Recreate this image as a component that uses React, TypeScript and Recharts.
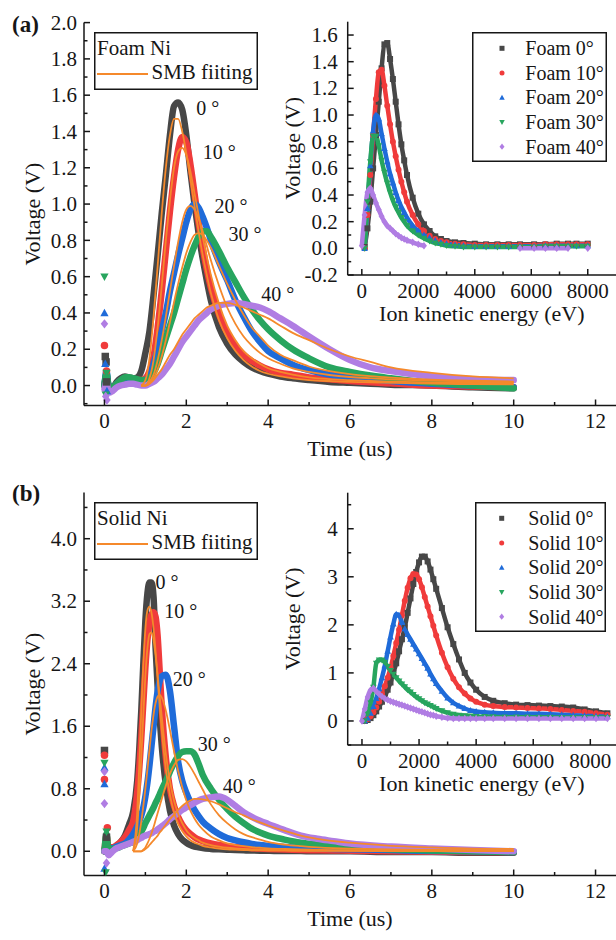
import React from 'react';
import { ComposedChart, Line, Scatter, XAxis, YAxis, Legend, ReferenceDot } from 'recharts';

const INK = '#161616';
const COLORS = ['#474747', '#f03b3b', '#1f6bd9', '#27a55e', '#b07de3'];
const FIT_COLOR = '#f5892b';
const MARKERS = ['square', 'circle', 'up', 'down', 'diamond'];
const FONT = "'Liberation Serif', 'Times New Roman', Times, serif";
const _ = null;

// ---- tick values ----
const TIME_MAJOR = [0, 2, 4, 6, 8, 10, 12];
const TIME_MINOR = [1, 3, 5, 7, 9, 11];
const VOLT_A_MAJOR = [0, 0.2, 0.4, 0.6, 0.8, 1.0, 1.2, 1.4, 1.6, 1.8, 2.0];
const VOLT_A_MINOR = [-0.1, 0.1, 0.3, 0.5, 0.7, 0.9, 1.1, 1.3, 1.5, 1.7, 1.9];
const VOLT_B_MAJOR = [0, 0.8, 1.6, 2.4, 3.2, 4.0];
const VOLT_B_MINOR = [0.4, 1.2, 2.0, 2.8, 3.6, 4.4];
const ENERGY_MAJOR = [0, 2000, 4000, 6000, 8000];
const ENERGY_MINOR = [1000, 3000, 5000, 7000];
const INSET_A_MAJOR = [-0.2, 0, 0.2, 0.4, 0.6, 0.8, 1.0, 1.2, 1.4, 1.6];
const INSET_A_MINOR = [-0.1, 0.1, 0.3, 0.5, 0.7, 0.9, 1.1, 1.3, 1.5];
const INSET_B_MAJOR = [0, 1, 2, 3, 4];
const INSET_B_MINOR = [-0.5, 0.5, 1.5, 2.5, 3.5, 4.5];

// ---- (a) foam Ni, time domain ----
const TIME_A = [0, 0.05, 0.1, 0.2, 0.3, 0.4, 0.5, 0.6, 0.7, 0.8, 0.9, 1.0, 1.1, 1.2, 1.3, 1.4, 1.5, 1.6, 1.7, 1.8, 1.9, 2.0, 2.1, 2.2, 2.3, 2.4, 2.5, 2.6, 2.8, 3.0, 3.2, 3.4, 3.6, 3.8, 4.0, 4.3, 4.6, 5.0, 5.5, 6.0, 6.5, 7.0, 8.0, 9.0, 10.0];
const FOAM_0 = [0.0, 0.06, 0.0, -0.01, 0.02, 0.04, 0.05, 0.045, 0.04, 0.045, 0.08, 0.18, 0.3, 0.5, 0.72, 0.95, 1.16, 1.38, 1.54, 1.56, 1.52, 1.38, 1.18, 1.0, 0.84, 0.7, 0.58, 0.47, 0.32, 0.23, 0.17, 0.13, 0.1, 0.08, 0.065, 0.05, 0.04, 0.03, 0.02, 0.015, 0.01, 0.005, 0.0, -0.01, -0.015];
const FOAM_10 = [0.0, 0.05, -0.01, -0.01, 0.01, 0.03, 0.04, 0.04, 0.035, 0.03, 0.03, 0.04, 0.08, 0.16, 0.32, 0.52, 0.74, 0.96, 1.15, 1.3, 1.37, 1.34, 1.22, 1.06, 0.9, 0.76, 0.64, 0.54, 0.39, 0.29, 0.22, 0.17, 0.135, 0.11, 0.09, 0.07, 0.06, 0.045, 0.035, 0.025, 0.018, 0.012, 0.0, -0.005, -0.01];
const FOAM_20 = [0.0, 0.08, 0.0, -0.01, 0.01, 0.03, 0.04, 0.04, 0.035, 0.03, 0.025, 0.03, 0.05, 0.12, 0.2, 0.3, 0.4, 0.52, 0.62, 0.72, 0.81, 0.9, 0.97, 1.0, 0.98, 0.93, 0.87, 0.8, 0.68, 0.58, 0.47, 0.38, 0.3, 0.24, 0.19, 0.15, 0.115, 0.085, 0.06, 0.045, 0.035, 0.025, 0.01, 0.0, -0.01];
const FOAM_30 = [0.0, 0.07, 0.0, -0.01, 0.01, 0.03, 0.045, 0.045, 0.04, 0.035, 0.03, 0.03, 0.04, 0.07, 0.12, 0.19, 0.26, 0.33, 0.4, 0.48, 0.56, 0.64, 0.71, 0.77, 0.82, 0.85, 0.85, 0.82, 0.74, 0.65, 0.57, 0.49, 0.42, 0.36, 0.31, 0.25, 0.2, 0.15, 0.1, 0.075, 0.055, 0.04, 0.015, 0.0, -0.015];
const FOAM_40 = [-0.02, 0.02, -0.04, -0.03, -0.01, 0.0, 0.005, 0.01, 0.01, 0.005, 0.0, 0.0, 0.01, 0.02, 0.04, 0.06, 0.09, 0.12, 0.16, 0.2, 0.24, 0.27, 0.3, 0.33, 0.36, 0.38, 0.4, 0.42, 0.44, 0.45, 0.455, 0.45, 0.44, 0.43, 0.41, 0.37, 0.33, 0.27, 0.2, 0.14, 0.1, 0.08, 0.05, 0.035, 0.03];
const FOAM_FIT_0 = [_, _, _, _, _, _, _, _, _, _, 0.0, 0.03, 0.15, 0.38, 0.66, 0.95, 1.2, 1.38, 1.47, 1.47, 1.4, 1.28, 1.14, 0.99, 0.85, 0.72, 0.61, 0.51, 0.36, 0.26, 0.19, 0.14, 0.105, 0.08, 0.065, 0.05, 0.04, 0.03, 0.025, 0.02, 0.018, 0.015, 0.01, 0.008, 0.006];
const FOAM_FIT_10 = [_, _, _, _, _, _, _, _, _, _, 0.0, 0.0, 0.04, 0.14, 0.32, 0.55, 0.8, 1.02, 1.2, 1.29, 1.31, 1.27, 1.18, 1.06, 0.94, 0.82, 0.71, 0.61, 0.45, 0.33, 0.25, 0.19, 0.15, 0.12, 0.095, 0.075, 0.06, 0.045, 0.035, 0.03, 0.025, 0.022, 0.017, 0.014, 0.012];
const FOAM_FIT_20 = [_, _, _, _, _, _, _, _, _, _, 0.0, 0.0, 0.02, 0.06, 0.14, 0.25, 0.38, 0.52, 0.66, 0.79, 0.9, 0.97, 0.99, 0.97, 0.92, 0.85, 0.77, 0.69, 0.55, 0.43, 0.34, 0.27, 0.22, 0.18, 0.15, 0.12, 0.095, 0.075, 0.058, 0.047, 0.04, 0.034, 0.027, 0.022, 0.018];
const FOAM_FIT_30 = [_, _, _, _, _, _, _, _, _, _, 0.0, 0.0, 0.01, 0.04, 0.09, 0.16, 0.25, 0.35, 0.46, 0.56, 0.65, 0.73, 0.79, 0.83, 0.84, 0.83, 0.8, 0.76, 0.66, 0.56, 0.47, 0.39, 0.32, 0.27, 0.22, 0.17, 0.14, 0.105, 0.08, 0.063, 0.052, 0.044, 0.033, 0.027, 0.022];
const FOAM_FIT_40 = [_, _, _, _, _, _, _, _, _, _, 0.0, 0.0, 0.01, 0.03, 0.06, 0.09, 0.13, 0.17, 0.2, 0.24, 0.28, 0.31, 0.34, 0.37, 0.39, 0.41, 0.43, 0.44, 0.455, 0.455, 0.445, 0.43, 0.41, 0.39, 0.37, 0.33, 0.29, 0.25, 0.2, 0.16, 0.13, 0.1, 0.07, 0.05, 0.04];
// stray points near t = 0, [time, voltage]
const FOAM_SPIKE_0 = [[0.02, 0.16], [0.04, 0.13], [0.05, 0.02]];
const FOAM_SPIKE_10 = [[0.0, 0.22], [0.05, 0.08]];
const FOAM_SPIKE_20 = [[0.0, 0.4], [0.02, 0.12], [0.06, -0.03]];
const FOAM_SPIKE_30 = [[0.0, 0.6], [0.05, 0.07], [0.03, -0.05]];
const FOAM_SPIKE_40 = [[0.0, 0.34], [0.03, -0.06], [0.06, -0.08]];

// ---- (b) solid Ni, time domain ----
const TIME_B = [0, 0.05, 0.1, 0.2, 0.3, 0.4, 0.5, 0.6, 0.7, 0.8, 0.85, 0.9, 0.95, 1.0, 1.05, 1.1, 1.15, 1.2, 1.25, 1.3, 1.35, 1.4, 1.5, 1.6, 1.7, 1.8, 1.9, 2.0, 2.1, 2.2, 2.3, 2.4, 2.6, 2.8, 3.0, 3.2, 3.4, 3.6, 3.8, 4.0, 4.4, 4.8, 5.2, 5.6, 6.0, 7.0, 8.0, 9.0, 10.0];
const SOLID_0 = [0.0, 0.12, 0.05, 0.04, 0.07, 0.12, 0.2, 0.34, 0.5, 0.9, 1.3, 1.8, 2.4, 2.95, 3.3, 3.44, 3.44, 3.25, 2.6, 2.1, 1.7, 1.35, 0.85, 0.52, 0.33, 0.22, 0.15, 0.11, 0.08, 0.06, 0.05, 0.04, 0.03, 0.025, 0.02, 0.015, 0.012, 0.01, 0.008, 0.006, 0.004, 0.002, 0.0, 0.0, 0.0, -0.01, -0.01, -0.02, -0.02];
const SOLID_10 = [0.0, 0.2, 0.05, 0.05, 0.08, 0.12, 0.18, 0.27, 0.38, 0.75, 1.05, 1.45, 1.9, 2.35, 2.7, 2.92, 3.03, 3.06, 3.0, 2.75, 2.3, 1.85, 1.2, 0.8, 0.58, 0.44, 0.34, 0.27, 0.22, 0.18, 0.15, 0.13, 0.1, 0.08, 0.065, 0.055, 0.047, 0.04, 0.035, 0.03, 0.022, 0.017, 0.013, 0.01, 0.008, 0.0, -0.005, -0.01, -0.01];
const SOLID_20 = [0.0, 0.1, 0.04, 0.04, 0.06, 0.08, 0.1, 0.15, 0.22, 0.32, 0.38, 0.46, 0.56, 0.7, 0.88, 1.1, 1.35, 1.6, 1.85, 2.05, 2.18, 2.24, 2.26, 2.05, 1.6, 1.15, 0.9, 0.75, 0.63, 0.53, 0.45, 0.38, 0.29, 0.22, 0.17, 0.14, 0.115, 0.095, 0.08, 0.07, 0.055, 0.045, 0.037, 0.03, 0.025, 0.015, 0.005, 0.0, -0.01];
const SOLID_30 = [0.0, 0.22, 0.0, 0.03, 0.04, 0.06, 0.08, 0.1, 0.12, 0.16, 0.2, 0.25, 0.3, 0.36, 0.41, 0.46, 0.51, 0.56, 0.62, 0.67, 0.73, 0.79, 0.9, 1.02, 1.13, 1.22, 1.27, 1.28, 1.28, 1.24, 1.12, 0.98, 0.8, 0.66, 0.54, 0.44, 0.36, 0.29, 0.24, 0.2, 0.15, 0.11, 0.085, 0.065, 0.05, 0.025, 0.01, 0.0, -0.01];
const SOLID_40 = [0.0, 0.0, -0.05, 0.0, 0.04, 0.06, 0.08, 0.1, 0.12, 0.14, 0.16, 0.17, 0.19, 0.2, 0.21, 0.22, 0.23, 0.25, 0.26, 0.28, 0.3, 0.32, 0.36, 0.41, 0.45, 0.49, 0.53, 0.56, 0.59, 0.62, 0.65, 0.67, 0.69, 0.7, 0.66, 0.58, 0.5, 0.44, 0.39, 0.35, 0.27, 0.2, 0.16, 0.13, 0.1, 0.06, 0.035, 0.015, 0.0];
const SOLID_FIT_0 = [_, _, _, _, _, _, _, _, 0.0, 0.5, 1.1, 1.8, 2.4, 2.85, 3.08, 3.13, 3.05, 2.85, 2.55, 2.2, 1.85, 1.55, 1.05, 0.72, 0.5, 0.35, 0.26, 0.19, 0.14, 0.11, 0.09, 0.07, 0.05, 0.035, 0.025, 0.02, 0.016, 0.013, 0.011, 0.01, 0.008, 0.006, 0.005, 0.004, 0.004, 0.003, 0.002, 0.002, 0.001];
const SOLID_FIT_10 = [_, _, _, _, _, _, _, _, 0.0, 0.3, 0.7, 1.2, 1.75, 2.25, 2.6, 2.78, 2.8, 2.7, 2.5, 2.25, 1.98, 1.72, 1.25, 0.9, 0.65, 0.48, 0.36, 0.27, 0.21, 0.17, 0.14, 0.11, 0.08, 0.06, 0.045, 0.036, 0.03, 0.025, 0.021, 0.018, 0.014, 0.011, 0.009, 0.008, 0.007, 0.005, 0.004, 0.003, 0.003];
const SOLID_FIT_20 = [_, _, _, _, _, _, _, _, 0.0, 0.1, 0.22, 0.38, 0.58, 0.8, 1.05, 1.3, 1.55, 1.75, 1.9, 1.98, 2.0, 1.97, 1.8, 1.55, 1.28, 1.03, 0.82, 0.65, 0.52, 0.42, 0.34, 0.28, 0.19, 0.14, 0.1, 0.08, 0.065, 0.053, 0.045, 0.038, 0.029, 0.023, 0.019, 0.016, 0.014, 0.01, 0.008, 0.007, 0.006];
const SOLID_FIT_30 = [_, _, _, _, _, _, _, _, 0.0, 0.0, 0.0, 0.0, 0.02, 0.05, 0.1, 0.16, 0.23, 0.31, 0.4, 0.49, 0.58, 0.67, 0.84, 0.99, 1.1, 1.17, 1.18, 1.15, 1.08, 0.99, 0.89, 0.79, 0.6, 0.46, 0.36, 0.28, 0.22, 0.18, 0.15, 0.12, 0.085, 0.065, 0.05, 0.04, 0.034, 0.024, 0.018, 0.014, 0.012];
const SOLID_FIT_40 = [_, _, _, _, _, _, _, _, 0.0, 0.0, 0.0, 0.0, 0.01, 0.03, 0.05, 0.08, 0.11, 0.14, 0.17, 0.2, 0.24, 0.27, 0.34, 0.41, 0.47, 0.53, 0.58, 0.62, 0.65, 0.67, 0.67, 0.665, 0.64, 0.6, 0.55, 0.5, 0.46, 0.41, 0.37, 0.33, 0.26, 0.2, 0.16, 0.13, 0.11, 0.07, 0.05, 0.035, 0.03];
const SOLID_SPIKE_0 = [[0.0, 1.29], [0.05, 0.18]];
const SOLID_SPIKE_10 = [[0.0, 1.23], [0.0, 0.92], [0.07, 0.3]];
const SOLID_SPIKE_20 = [[0.0, 1.07], [0.0, 0.86], [0.0, -0.22]];
const SOLID_SPIKE_30 = [[0.0, 1.13], [0.05, 0.25], [0.03, -0.27]];
const SOLID_SPIKE_40 = [[0.0, 1.02], [0.0, 0.61], [0.05, -0.15]];

// ---- insets, energy domain ----
const ENERGY_A = [0, 100, 200, 300, 400, 500, 600, 700, 800, 900, 1000, 1100, 1200, 1300, 1400, 1500, 1600, 1800, 2000, 2200, 2400, 2600, 2800, 3000, 3300, 3600, 4000, 4400, 4800, 5200, 5600, 6100, 6500, 6900, 7300, 7600, 8000];
const FOAM_E0 = [_, 0.01, 0.15, 0.35, 0.6, 0.85, 1.1, 1.35, 1.53, 1.54, 1.42, 1.27, 1.1, 0.93, 0.78, 0.66, 0.55, 0.38, 0.26, 0.18, 0.13, 0.09, 0.07, 0.055, 0.045, 0.04, 0.035, 0.03, 0.03, 0.03, 0.03, 0.03, 0.03, 0.035, 0.035, 0.035, 0.035];
const FOAM_E10 = [_, 0.0, 0.25, 0.55, 0.85, 1.12, 1.32, 1.34, 1.22, 1.07, 0.93, 0.8, 0.69, 0.59, 0.5, 0.42, 0.35, 0.25, 0.18, 0.13, 0.095, 0.07, 0.055, 0.045, 0.035, 0.03, 0.025, 0.025, 0.025, 0.025, 0.025, 0.025, 0.03, 0.03, 0.03, 0.03, 0.03];
const FOAM_E20 = [_, 0.0, 0.3, 0.62, 0.88, 1.0, 0.97, 0.86, 0.75, 0.65, 0.56, 0.49, 0.42, 0.36, 0.31, 0.27, 0.23, 0.17, 0.13, 0.1, 0.08, 0.06, 0.045, 0.035, 0.025, 0.02, 0.015, 0.015, 0.015, 0.015, 0.015, 0.015, 0.02, 0.02, 0.02, 0.02, 0.02];
const FOAM_E30 = [_, 0.0, 0.35, 0.65, 0.84, 0.84, 0.77, 0.66, 0.57, 0.49, 0.42, 0.36, 0.31, 0.27, 0.23, 0.2, 0.17, 0.13, 0.1, 0.075, 0.055, 0.04, 0.03, 0.02, 0.015, 0.01, 0.01, 0.01, 0.01, 0.01, 0.01, 0.01, 0.015, 0.015, 0.015, 0.015, 0.015];
const FOAM_E40 = [0.02, 0.25, 0.42, 0.45, 0.4, 0.34, 0.29, 0.24, 0.2, 0.17, 0.15, 0.13, 0.11, 0.095, 0.08, 0.07, 0.06, 0.045, 0.03, 0.02, _, _, _, _, _, _, _, _, _, _, 0.0, 0.0, 0.0, 0.0, 0.0, _, 0.0];

const ENERGY_B = [0, 100, 200, 300, 400, 500, 600, 700, 800, 900, 1000, 1100, 1200, 1300, 1400, 1500, 1600, 1700, 1800, 1900, 2000, 2100, 2200, 2300, 2400, 2500, 2600, 2800, 3000, 3200, 3400, 3600, 3800, 4000, 4300, 4600, 5000, 5400, 5800, 6200, 6600, 7000, 7400, 7800, 8200, 8600];
const SOLID_E0 = [_, 0.0, 0.02, 0.06, 0.12, 0.2, 0.3, 0.4, 0.5, 0.65, 0.8, 1.0, 1.2, 1.45, 1.7, 1.95, 2.25, 2.55, 2.85, 3.1, 3.3, 3.42, 3.42, 3.32, 3.15, 2.95, 2.75, 2.35, 1.95, 1.6, 1.28, 1.0, 0.8, 0.65, 0.5, 0.42, 0.37, 0.34, 0.33, 0.32, 0.31, 0.3, 0.28, 0.24, 0.2, 0.16];
const SOLID_E10 = [_, 0.0, 0.04, 0.1, 0.18, 0.28, 0.4, 0.55, 0.72, 0.9, 1.1, 1.35, 1.62, 1.9, 2.2, 2.5, 2.77, 2.97, 3.06, 3.05, 2.95, 2.78, 2.58, 2.38, 2.18, 1.98, 1.78, 1.42, 1.12, 0.88, 0.7, 0.57, 0.47, 0.4, 0.34, 0.31, 0.29, 0.28, 0.27, 0.26, 0.25, 0.23, 0.21, 0.19, 0.16, 0.13];
const SOLID_E20 = [_, 0.0, 0.06, 0.16, 0.3, 0.47, 0.67, 0.9, 1.15, 1.45, 1.75, 2.02, 2.22, 2.2, 2.05, 1.92, 1.8, 1.7, 1.6, 1.5, 1.4, 1.3, 1.2, 1.1, 0.98, 0.88, 0.78, 0.62, 0.48, 0.38, 0.31, 0.26, 0.22, 0.2, 0.18, 0.17, 0.16, 0.16, 0.15, 0.15, 0.14, 0.13, 0.12, 0.11, 0.1, 0.09];
const SOLID_E30 = [_, 0.0, 0.15, 0.38, 0.7, 1.2, 1.27, 1.27, 1.22, 1.13, 1.05, 0.97, 0.9, 0.83, 0.77, 0.71, 0.65, 0.6, 0.55, 0.5, 0.46, 0.42, 0.38, 0.35, 0.32, 0.29, 0.26, 0.21, 0.17, 0.14, 0.12, 0.11, 0.1, 0.09, 0.09, 0.085, 0.08, 0.08, 0.08, 0.075, 0.075, 0.07, 0.07, 0.07, 0.07, 0.07];
const SOLID_E40 = [0.0, 0.25, 0.5, 0.64, 0.68, 0.62, 0.56, 0.51, 0.47, 0.44, 0.41, 0.39, 0.37, 0.35, 0.33, 0.31, 0.29, 0.27, 0.25, 0.23, 0.21, 0.19, 0.17, 0.15, 0.13, 0.12, 0.1, 0.08, 0.06, 0.05, 0.05, 0.05, 0.05, 0.05, 0.05, 0.05, 0.05, 0.05, 0.05, 0.05, 0.05, 0.05, 0.05, 0.05, 0.05, 0.05];

const FOAM_NAMES = ['Foam 0°', 'Foam 10°', 'Foam 20°', 'Foam 30°', 'Foam 40°'];
const SOLID_NAMES = ['Solid 0°', 'Solid 10°', 'Solid 20°', 'Solid 30°', 'Solid 40°'];
const ANGLE_LABELS = ['0 °', '10 °', '20 °', '30 °', '40 °'];
const FOAM_NOTE_T = [2.24, 2.4, 2.69, 3.03, 3.83];
const FOAM_NOTE_V = [1.53, 1.29, 0.99, 0.834, 0.504];
const SOLID_NOTE_T = [1.25, 1.46, 1.67, 2.28, 2.89];
const SOLID_NOTE_V = [3.45, 3.07, 2.21, 1.37, 0.84];

const AXIS_LINE = { stroke: INK, strokeWidth: 1.5 };
const fmt1 = (v: number) => v.toFixed(1);
const fmt0 = (v: number) => String(v);

function Mark({ kind, cx, cy, size, color }: any) {
  const h = size / 2;
  if (kind === 'square') return <rect x={cx - h} y={cy - h} width={size} height={size} fill={color} />;
  if (kind === 'circle') return <circle cx={cx} cy={cy} r={h} fill={color} />;
  if (kind === 'up')
    return <path d={`M${cx} ${cy - h * 1.15}L${cx + h * 1.1} ${cy + h * 0.85}L${cx - h * 1.1} ${cy + h * 0.85}Z`} fill={color} />;
  if (kind === 'down')
    return <path d={`M${cx} ${cy + h * 1.15}L${cx + h * 1.1} ${cy - h * 0.85}L${cx - h * 1.1} ${cy - h * 0.85}Z`} fill={color} />;
  return <path d={`M${cx} ${cy - h * 1.25}L${cx + h} ${cy}L${cx} ${cy + h * 1.25}L${cx - h} ${cy}Z`} fill={color} />;
}

const markShape = (kind: string, color: string, size: number) => (p: any) => (
  <Mark kind={kind} cx={p.cx} cy={p.cy} size={size} color={color} />
);

// ticks point inward, Origin style; labels only on majors
function makeTick(side: string, major: number[], fmt: any, gap: number, fontSize: number) {
  return (props: any) => {
    const { x, y, payload } = props;
    const v = payload.value;
    const isMajor = major.some((m) => Math.abs(m - v) < 1e-6);
    const len = isMajor ? 6 : 3.5;
    const dx = side === 'left' ? len : side === 'right' ? -len : 0;
    const dy = side === 'bottom' ? -len : side === 'top' ? len : 0;
    let label = null;
    if (isMajor && fmt && side === 'bottom')
      label = (
        <text x={x} y={y + 22.5} textAnchor="middle" fontSize={fontSize} fill={INK}>
          {fmt(v)}
        </text>
      );
    if (isMajor && fmt && side === 'left')
      label = (
        <text x={x - gap} y={y + fontSize * 0.34} textAnchor="end" fontSize={fontSize} fill={INK}>
          {fmt(v)}
        </text>
      );
    return (
      <g>
        <line x1={x} y1={y} x2={x + dx} y2={y + dy} stroke={INK} strokeWidth={1.5} />
        {label}
      </g>
    );
  };
}

function frameAxes(o: any) {
  const ticksX = [...o.xMajor, ...o.xMinor].sort((a, b) => a - b);
  const ticksY = [...o.yMajor, ...o.yMinor].sort((a, b) => a - b);
  const common = { type: 'number' as const, allowDataOverflow: true, interval: 0, tickSize: 0, tickMargin: 0, tickLine: false, axisLine: AXIS_LINE };
  return [
    <XAxis
      key="xb"
      {...common}
      dataKey={o.xKey}
      domain={o.xDomain}
      ticks={ticksX}
      height={o.xHeight}
      tick={makeTick('bottom', o.xMajor, o.xFmt, 0, 21)}
      label={{ value: o.xLabel, position: 'insideBottom', offset: o.xLabelOffset, fontSize: 22, fill: INK }}
    />,
    <XAxis key="xt" {...common} xAxisId="top" orientation="top" domain={o.xDomain} ticks={ticksX} height={0} tick={makeTick('top', o.xMajor, null, 0, 21)} />,
    <YAxis
      key="yl"
      {...common}
      domain={o.yDomain}
      ticks={ticksY}
      width={o.yWidth}
      tick={makeTick('left', o.yMajor, o.yFmt, o.gap, 21)}
      label={{ value: 'Voltage (V)', angle: -90, position: 'insideLeft', offset: o.yLabelOffset, fontSize: 22, fill: INK, style: { textAnchor: 'middle' } }}
    />,
    <YAxis key="yr" {...common} yAxisId="right" orientation="right" domain={o.yDomain} ticks={ticksY} width={0} tick={makeTick('right', o.yMajor, null, 0, 21)} />,
  ];
}

function MainKey({ title }: { title: string }) {
  return (
    <svg width={164} height={58} style={{ display: 'block' }}>
      <rect x={0.75} y={0.75} width={162.5} height={56.5} fill="#fff" stroke={INK} strokeWidth={1.5} />
      <text x={3} y={23} fontSize={21} fill={INK}>{title}</text>
      <line x1={3} x2={54} y1={42} y2={42} stroke={FIT_COLOR} strokeWidth={2} />
      <text x={57.5} y={47} fontSize={21} fill={INK}>SMB fiiting</text>
    </svg>
  );
}

function InsetKey({ names, width, markX }: { names: string[]; width: number; markX: number }) {
  return (
    <svg width={width} height={130} style={{ display: 'block' }}>
      <rect x={0.75} y={0.75} width={width - 1.5} height={128.5} fill="#fff" stroke={INK} strokeWidth={1.5} />
      {names.map((n, k) => (
        <g key={n}>
          <Mark kind={MARKERS[k]} cx={markX} cy={16.3 + k * 24.6} size={5} color={COLORS[k]} />
          <text x={53.3} y={16.3 + k * 24.6 + 6.8} fontSize={20} fill={INK}>{n}</text>
        </g>
      ))}
    </svg>
  );
}

function MainPanel({ title, time, data, fits, spikes, yDomain, yMajor, yMinor, noteT, noteV }: any) {
  const table = time.map((t: number, i: number) => {
    const row: any = { t };
    data.forEach((s: any[], k: number) => (row['d' + k] = s[i]));
    fits.forEach((s: any[], k: number) => (row['f' + k] = s[i]));
    return row;
  });
  return (
    <ComposedChart width={616} height={470} data={table} margin={{ top: 22.6, right: 0, bottom: 0, left: 0 }}>
      {frameAxes({
        xKey: 't', xDomain: [-0.5, 12.5], xMajor: TIME_MAJOR, xMinor: TIME_MINOR, xFmt: fmt0, xHeight: 64.5,
        xLabel: 'Time (us)', xLabelOffset: 14, yDomain, yMajor, yMinor, yFmt: fmt1, yWidth: 84, gap: 7, yLabelOffset: 32,
      })}
      {data.map((_s: any, k: number) => (
        <Line key={'d' + k} dataKey={'d' + k} type="monotone" stroke={COLORS[k]} strokeWidth={6.5} strokeLinejoin="round" strokeLinecap="round" dot={false} activeDot={false} isAnimationActive={false} />
      ))}
      {spikes.map((s: number[][], k: number) => (
        <Scatter key={'s' + k} data={s.map(([t, v]) => ({ t, v }))} dataKey="v" fill={COLORS[k]} shape={markShape(MARKERS[k], COLORS[k], 7.5)} isAnimationActive={false} />
      ))}
      {fits.map((_s: any, k: number) => (
        <Line key={'f' + k} dataKey={'f' + k} type="monotone" stroke={FIT_COLOR} strokeWidth={1.8} dot={false} activeDot={false} isAnimationActive={false} />
      ))}
      {ANGLE_LABELS.map((txt, k) => (
        <ReferenceDot key={txt} x={noteT[k]} y={noteV[k]} r={0} fill="none" stroke="none" label={{ value: txt, position: 'right', offset: 0, fontSize: 20, fill: INK }} />
      ))}
      <Legend
        layout="vertical"
        align="center"
        verticalAlign="middle"
        wrapperStyle={{ position: 'absolute', left: 94, top: 32, width: 164, height: 58 }}
        content={() => <MainKey title={title} />}
      />
    </ComposedChart>
  );
}

function InsetPanel({ energy, series, names, xDomain, yDomain, yMajor, yMinor, yFmt, top, keyLeft, keyWidth, keyMarkX }: any) {
  return (
    <ComposedChart width={346} height={330} margin={{ top, right: 0, bottom: 0, left: 0 }}>
      {frameAxes({
        xKey: 'e', xDomain, xMajor: ENERGY_MAJOR, xMinor: ENERGY_MINOR, xFmt: fmt0, xHeight: 55,
        xLabel: 'Ion kinetic energy (eV)', xLabelOffset: 9, yDomain, yMajor, yMinor, yFmt, yWidth: 77.7, gap: 10, yLabelOffset: 22,
      })}
      {series.map((s: any[], k: number) => {
        const rows = energy.map((e: number, i: number) => ({ e, v: s[i] }));
        return [
          <Line key={'l' + k} data={rows} dataKey="v" type="monotone" stroke={COLORS[k]} strokeWidth={4.5} strokeLinejoin="round" dot={false} activeDot={false} isAnimationActive={false} />,
          <Scatter key={'p' + k} name={names[k]} data={rows.filter((r: any) => r.v !== null)} dataKey="v" fill={COLORS[k]} shape={markShape(MARKERS[k], COLORS[k], 6)} isAnimationActive={false} />,
        ];
      })}
      <Legend
        layout="vertical"
        align="center"
        verticalAlign="middle"
        wrapperStyle={{ position: 'absolute', left: keyLeft, top: 32, width: keyWidth, height: 130 }}
        content={() => <InsetKey names={names} width={keyWidth} markX={keyMarkX} />}
      />
    </ComposedChart>
  );
}

export default function App() {
  return (
    <div style={{ position: 'absolute', left: 0, top: 0, width: 616, height: 940, background: '#fff', fontFamily: FONT, color: INK, overflow: 'hidden' }}>
      <div style={{ position: 'absolute', left: 0, top: 0, width: 616, height: 470 }}>
        <MainPanel
          title="Foam Ni"
          time={TIME_A}
          data={[FOAM_0, FOAM_10, FOAM_20, FOAM_30, FOAM_40]}
          fits={[FOAM_FIT_0, FOAM_FIT_10, FOAM_FIT_20, FOAM_FIT_30, FOAM_FIT_40]}
          spikes={[FOAM_SPIKE_0, FOAM_SPIKE_10, FOAM_SPIKE_20, FOAM_SPIKE_30, FOAM_SPIKE_40]}
          yDomain={[-0.11, 2.0]}
          yMajor={VOLT_A_MAJOR}
          yMinor={VOLT_A_MINOR}
          noteT={FOAM_NOTE_T}
          noteV={FOAM_NOTE_V}
        />
        <div style={{ position: 'absolute', left: 270, top: 0 }}>
          <InsetPanel
            energy={ENERGY_A}
            series={[FOAM_E0, FOAM_E10, FOAM_E20, FOAM_E30, FOAM_E40]}
            names={FOAM_NAMES}
            xDomain={[-500, 9000]}
            yDomain={[-0.2, 1.7]}
            yMajor={INSET_A_MAJOR}
            yMinor={INSET_A_MINOR}
            yFmt={fmt1}
            top={21.7}
            keyLeft={201.7}
            keyWidth={135}
            keyMarkX={30}
          />
        </div>
        <div style={{ position: 'absolute', left: 12, top: 12.7, fontSize: 23, lineHeight: '23px', fontWeight: 'bold' }}>(a)</div>
      </div>
      <div style={{ position: 'absolute', left: 0, top: 470, width: 616, height: 470 }}>
        <MainPanel
          title="Solid Ni"
          time={TIME_B}
          data={[SOLID_0, SOLID_10, SOLID_20, SOLID_30, SOLID_40]}
          fits={[SOLID_FIT_0, SOLID_FIT_10, SOLID_FIT_20, SOLID_FIT_30, SOLID_FIT_40]}
          spikes={[SOLID_SPIKE_0, SOLID_SPIKE_10, SOLID_SPIKE_20, SOLID_SPIKE_30, SOLID_SPIKE_40]}
          yDomain={[-0.31, 4.59]}
          yMajor={VOLT_B_MAJOR}
          yMinor={VOLT_B_MINOR}
          noteT={SOLID_NOTE_T}
          noteV={SOLID_NOTE_V}
        />
        <div style={{ position: 'absolute', left: 270, top: 0 }}>
          <InsetPanel
            energy={ENERGY_B}
            series={[SOLID_E0, SOLID_E10, SOLID_E20, SOLID_E30, SOLID_E40]}
            names={SOLID_NAMES}
            xDomain={[-500, 8900]}
            yDomain={[-0.5, 4.75]}
            yMajor={INSET_B_MAJOR}
            yMinor={INSET_B_MINOR}
            yFmt={fmt0}
            top={22.7}
            keyLeft={205}
            keyWidth={131}
            keyMarkX={26.7}
          />
        </div>
        <div style={{ position: 'absolute', left: 12, top: 11.7, fontSize: 23, lineHeight: '23px', fontWeight: 'bold' }}>(b)</div>
      </div>
    </div>
  );
}
